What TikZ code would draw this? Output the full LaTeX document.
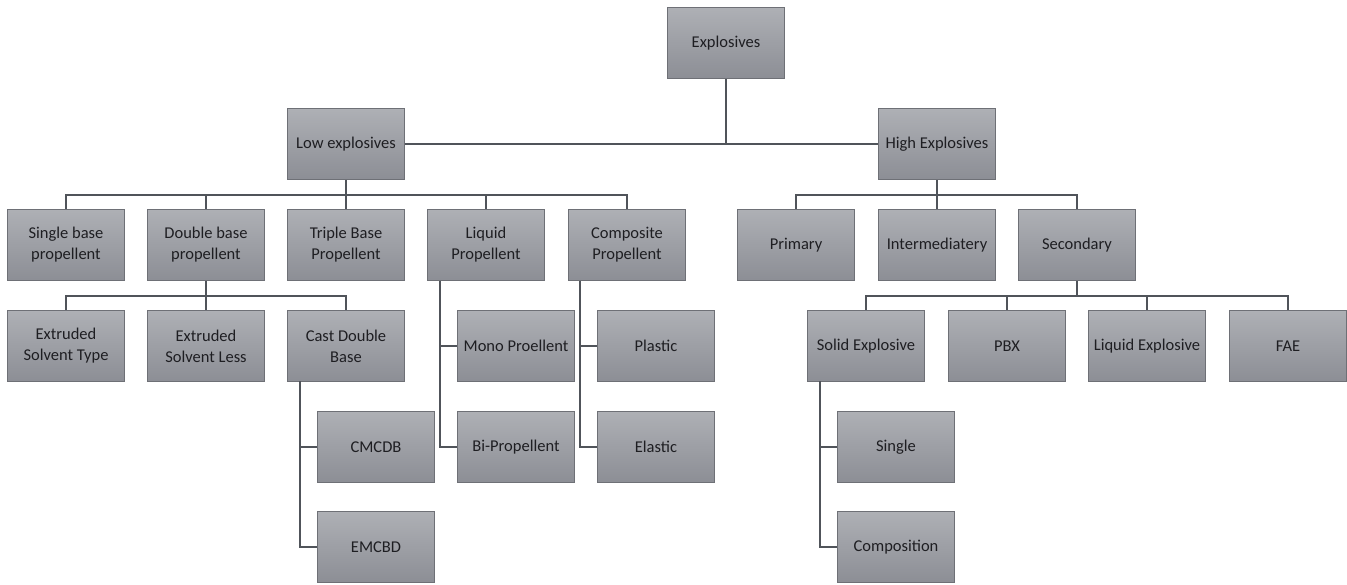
\documentclass[tikz,border=0pt]{standalone}
\usepackage{fontspec}
\setmainfont{Carlito}
\definecolor{boxtop}{HTML}{AEB0B5}
\definecolor{boxbot}{HTML}{8C8E95}
\definecolor{boxline}{HTML}{6E7076}
\definecolor{conn}{HTML}{50545A}
\definecolor{txt}{HTML}{1E1E22}
\tikzset{
  box/.style={draw=boxline, line width=1.2pt, top color=boxtop, bottom color=boxbot,
    minimum width=117pt, minimum height=71pt, inner sep=2pt, align=center,
    text=txt, font=\fontsize{16.5}{21}\selectfont},
  conn/.style={draw=conn, line width=2pt}
}
\begin{document}
\begin{tikzpicture}[x=1pt,y=-1pt]
\useasboundingbox[fill=white] (0,0) rectangle (1347,585);
% level 0/1
\node[box] (exp) at (726,43) {Explosives};
\node[box] (low) at (346,144) {Low explosives};
\node[box] (high) at (937,144) {High Explosives};
% level 2 low
\node[box] (single) at (66,245) {Single base\\propellent};
\node[box] (double) at (206,245) {Double base\\propellent};
\node[box] (triple) at (346,245) {Triple Base\\Propellent};
\node[box] (liquid) at (486,245) {Liquid\\Propellent};
\node[box] (comp) at (627,245) {Composite\\Propellent};
% level 2 high
\node[box] (primary) at (796,245) {Primary};
\node[box] (inter) at (937,245) {Intermediatery};
\node[box] (second) at (1077,245) {Secondary};
% level 3
\node[box] (est) at (66,346) {Extruded\\Solvent Type};
\node[box] (esl) at (206,346) {Extruded\\Solvent Less};
\node[box] (cast) at (346,346) {Cast Double\\Base};
\node[box] (mono) at (516,346) {Mono Proellent};
\node[box] (plastic) at (656,346) {Plastic};
\node[box] (solid) at (866,346) {Solid Explosive};
\node[box] (pbx) at (1007,346) {PBX};
\node[box] (liqex) at (1147,346) {Liquid Explosive};
\node[box] (fae) at (1288,346) {FAE};
% level 4
\node[box] (cmcdb) at (376,447) {CMCDB};
\node[box] (bi) at (516,447) {Bi-Propellent};
\node[box] (elastic) at (656,447) {Elastic};
\node[box] (sgl) at (896,447) {Single};
% level 5
\node[box] (emcbd) at (376,547) {EMCBD};
\node[box] (compo) at (896,547) {Composition};
% junction coordinates
\coordinate (lowj) at (346,195);
\coordinate (highj) at (937,195);
\coordinate (dblj) at (206,296);
\coordinate (secj) at (1077,296);
\coordinate (castl) at (300,381);
\coordinate (liql) at (440,281);
\coordinate (compl) at (580,281);
\coordinate (solidl) at (820,381);
% connectors
\draw[conn] (exp.south) |- (low.east);
\draw[conn] (exp.south) |- (high.west);
\draw[conn] (low.south) -- (lowj);
\foreach \n in {single,double,triple,liquid,comp} \draw[conn] (lowj) -| (\n.north);
\draw[conn] (high.south) -- (highj);
\foreach \n in {primary,inter,second} \draw[conn] (highj) -| (\n.north);
\draw[conn] (double.south) -- (dblj);
\foreach \n in {est,esl,cast} \draw[conn] (dblj) -| (\n.north);
\draw[conn] (second.south) -- (secj);
\foreach \n in {solid,pbx,liqex,fae} \draw[conn] (secj) -| (\n.north);
\foreach \n in {cmcdb,emcbd} \draw[conn] (castl) |- (\n.west);
\foreach \n in {mono,bi} \draw[conn] (liql) |- (\n.west);
\foreach \n in {plastic,elastic} \draw[conn] (compl) |- (\n.west);
\foreach \n in {sgl,compo} \draw[conn] (solidl) |- (\n.west);
\end{tikzpicture}
\end{document}
